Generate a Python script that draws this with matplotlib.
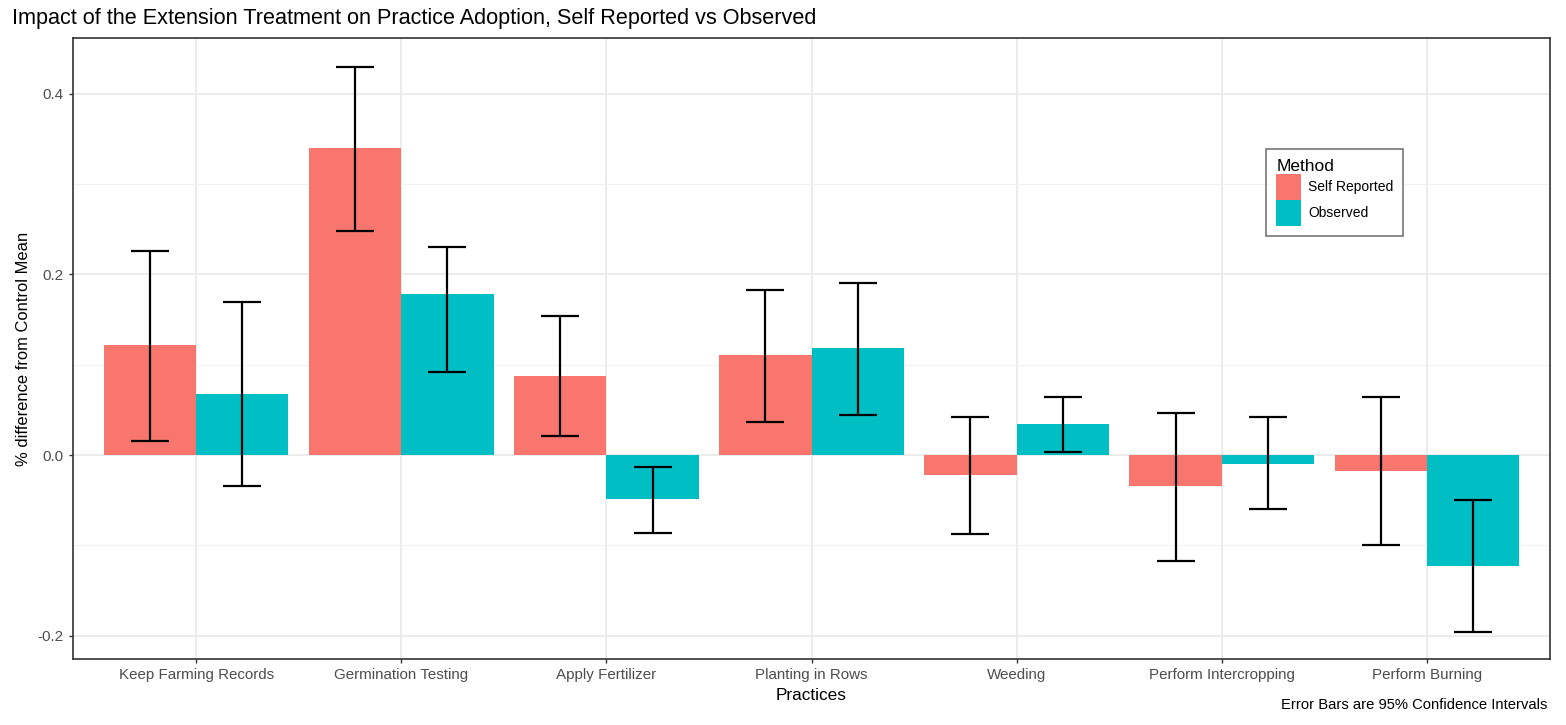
import matplotlib
matplotlib.use('Agg')
import matplotlib.pyplot as plt
from matplotlib.patches import Patch
import numpy as np

plt.rcParams['font.family'] = ['Liberation Sans', 'DejaVu Sans']

practices = ['Keep Farming Records', 'Germination Testing', 'Apply Fertilizer',
             'Planting in Rows', 'Weeding', 'Perform Intercropping', 'Perform Burning']

# point estimates and 95% CI bounds
self_est = [0.122, 0.340, 0.0875, 0.111, -0.022, -0.034, -0.018]
self_lo = [0.0155, 0.248, 0.021, 0.0366, -0.0875, -0.117, -0.100]
self_hi = [0.226, 0.430, 0.154, 0.183, 0.042, 0.0465, 0.064]

obs_est = [0.0676, 0.178, -0.049, 0.1186, 0.034, -0.010, -0.123]
obs_lo = [-0.034, 0.092, -0.086, 0.0443, 0.003, -0.060, -0.196]
obs_hi = [0.1695, 0.230, -0.013, 0.1906, 0.064, 0.042, -0.050]

red = '#F8766D'
teal = '#00BFC4'

fig = plt.figure(figsize=(15.66, 7.25), dpi=100)
ax = fig.add_axes([0.0466, 0.0910, 0.9432, 0.8566])

x = np.arange(1, len(practices) + 1)
w = 0.45

ax.bar(x - w / 2, self_est, width=w, color=red, zorder=2)
ax.bar(x + w / 2, obs_est, width=w, color=teal, zorder=2)

for xs, est, lo, hi in [(x - w / 2, self_est, self_lo, self_hi), (x + w / 2, obs_est, obs_lo, obs_hi)]:
    est = np.array(est)
    yerr = [est - np.array(lo), np.array(hi) - est]
    ax.errorbar(xs, est, yerr=yerr, fmt='none', ecolor='black', elinewidth=1.6,
                capsize=13.5, capthick=1.6, zorder=3)

ax.set_xlim(0.4, 7.6)
ax.set_ylim(-0.226, 0.462)
ax.set_xticks(x)
ax.set_xticklabels(practices)
ax.set_yticks([-0.2, 0.0, 0.2, 0.4])
ax.set_yticklabels(['-0.2', '0.0', '0.2', '0.4'])
ax.set_yticks([-0.1, 0.1, 0.3], minor=True)

ax.grid(True, which='major', color='#EBEBEB', linewidth=1.3, zorder=0)
ax.grid(True, which='minor', axis='y', color='#F2F2F2', linewidth=0.8, zorder=0)
ax.set_axisbelow(True)

for s in ax.spines.values():
    s.set_color('#333333')
    s.set_linewidth(1.2)

ax.tick_params(axis='both', which='major', colors='#333333', labelcolor='#4D4D4D',
               length=3, width=1, labelsize=11)
ax.tick_params(axis='y', which='minor', length=0)
ax.tick_params(axis='x', labelsize=10.9)

ax.set_xlabel('Practices', fontsize=12.4, labelpad=4)
ax.set_ylabel('% difference from Control Mean', fontsize=11.9, labelpad=5)

fig.text(0.0077, 0.975, 'Impact of the Extension Treatment on Practice Adoption, Self Reported vs Observed',
         fontsize=15.6, ha='left', va='center')
fig.text(0.9880, 0.0276, 'Error Bars are 95% Confidence Intervals', fontsize=10.6, ha='right', va='center')

handles = [Patch(facecolor=red, label='Self Reported'), Patch(facecolor=teal, label='Observed')]
leg = ax.legend(handles=handles, title='Method', loc='upper left', bbox_to_anchor=(0.808, 0.821),
                frameon=True, fancybox=False, edgecolor='#555555', fontsize=10,
                title_fontsize=12.5, handlelength=1.8, handleheight=2.5, handletextpad=0.5,
                labelspacing=0.0, borderpad=0.7, borderaxespad=0)
leg._legend_box.align = 'left'
leg.get_frame().set_linewidth(1.2)

fig.savefig('out.png', dpi=100)
